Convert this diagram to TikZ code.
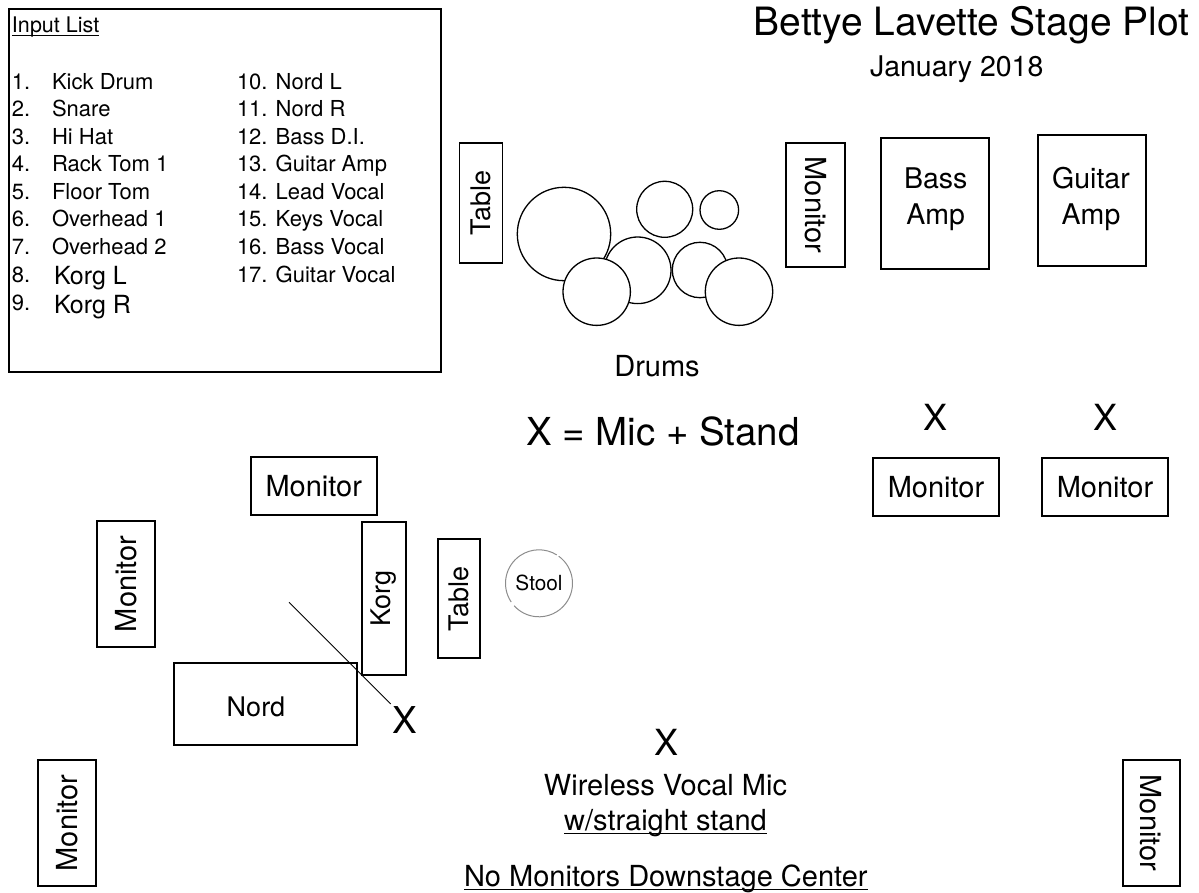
\documentclass[tikz,border=0pt]{standalone}
\usepackage{fontspec}
\setmainfont{TeX Gyre Heros}
\usetikzlibrary{calc}
\begin{document}
\begin{tikzpicture}[x=1pt,y=-1pt,
  box/.style={draw, line width=1.8pt, inner sep=0pt, outer sep=0pt},
  drum/.style={circle, draw, line width=1.3pt, fill=white, inner sep=0pt},
  txt/.style={inner sep=0pt, outer sep=0pt},
  fa/.style={font=\fontsize{22}{27.5}\selectfont},
  fb/.style={font=\fontsize{25}{30}\selectfont},
  fc/.style={font=\fontsize{27}{32}\selectfont},
  fd/.style={font=\fontsize{29}{35}\selectfont},
  famp/.style={font=\fontsize{28.5}{35.7}\selectfont, align=center},
  fx/.style={font=\fontsize{36}{42}\selectfont},
  uline/.style={line width=1pt},
  stoolline/.style={draw=black!45, line width=1pt}
]
\useasboundingbox (0,0) rectangle (1199,893);

% Input list
\node[box, line width=1.3pt, minimum width=432, minimum height=363, anchor=north west] (inputbox) at (9,9) {};
\node[txt, font=\fontsize{21.5}{26}\selectfont, anchor=base west] (inhead) at (12,33) {Input List};
\draw[uline] ([yshift=-2.5pt]inhead.base west) -- ([yshift=-2.5pt]inhead.base east);
\foreach \itm/\yy [count=\i] in {Kick Drum/89.3, Snare/116.7, Hi Hat/144.3, Rack Tom 1/172, Floor Tom/199.3, Overhead 1/226.7, Overhead 2/254.3}{
  \node[txt, fa, anchor=base west] (num\i) at (12,\yy) {\i.};
  \node[txt, fa, anchor=base west] (itm\i) at (52,\yy) {\itm};
}
\node[txt, fa, anchor=base west] (num8) at (12,282.7) {8.};
\node[txt, fb, anchor=base west] (itm8) at (54,285) {Korg L};
\node[txt, fa, anchor=base west] (num9) at (12,310.7) {9.};
\node[txt, fb, anchor=base west] (itm9) at (54,313) {Korg R};
\foreach \itm/\yy [count=\i from 10] in {Nord L/89.3, Nord R/116.7, Bass D.I./144.3, Guitar Amp/172, Lead Vocal/199.3, Keys Vocal/226.7, Bass Vocal/254.3, Guitar Vocal/282.7}{
  \node[txt, fa, anchor=base west] (itm\i) at (237,\yy) {\i. \itm};
}

% Title
\node[txt, font=\fontsize{39}{47}\selectfont, anchor=base] (title) at (971.5,36) {Bettye Lavette Stage Plot};
\node[txt, font=\fontsize{28.5}{34}\selectfont, anchor=base] (date) at (956.7,77) {January 2018};

% Drum riser area
\node[box, fc, rotate=90, minimum width=119.4, minimum height=43] (tabletop) at (481,203) {Table};
\node[drum, minimum size=93.4] (kick) at (564,234) {};
\node[drum, minimum size=56] (racktom) at (664.7,209.3) {};
\node[drum, minimum size=38.6] (hihat) at (719.3,210) {};
\node[drum, minimum size=66.6] (snare) at (637.7,270.3) {};
\node[drum, minimum size=55.4] (tomr) at (700,270) {};
\node[drum, minimum size=67.4] (cymL) at (596.7,291.7) {};
\node[drum, minimum size=67.4] (cymR) at (739,291.7) {};
\node[txt, fd, anchor=base] (drums) at (657,376) {Drums};

\node[box, fd, rotate=-90, minimum width=123.4, minimum height=59] (montop) at (815.5,205) {Monitor};
\node[box, minimum width=107.7, minimum height=130.7] (bassamp) at (934.9,203.7) {};
\node[txt, famp] (basstxt) at (935.7,199) {Bass\\Amp};
\node[box, minimum width=108, minimum height=130.7] (guitaramp) at (1092.3,200.4) {};
\node[txt, famp] (guitartxt) at (1091,199) {Guitar\\Amp};

% Mic legend and right monitors
\node[txt, font=\fontsize{38.5}{46}\selectfont, anchor=base west] (legend) at (526,445) {X = Mic + Stand};
\node[txt, fx, anchor=base] (xr1) at (935,430) {X};
\node[txt, fx, anchor=base] (xr2) at (1105,430) {X};
\node[box, fd, minimum width=126, minimum height=57.5] (monr1) at (936,487) {Monitor};
\node[box, fd, minimum width=126, minimum height=57.5] (monr2) at (1105,487) {Monitor};

% Keys area
\node[box, fd, minimum width=126, minimum height=57.7] (montl) at (313.7,486.2) {Monitor};
\node[box, fd, rotate=90, minimum width=125.7, minimum height=57.7] (monl) at (126.2,583.8) {Monitor};
\node[box, fc, rotate=90, minimum width=152.7, minimum height=43.4] (korg) at (384,598.7) {Korg};
\node[box, fc, rotate=90, minimum width=119, minimum height=42.3] (tablebot) at (458.8,598.8) {Table};
\node[txt, font=\fontsize{20.8}{25}\selectfont, minimum size=67] (stool) at (539,583.3) {Stool};
\draw[stoolline] ($(stool.center)+(-54:33.5)$) arc[start angle=-54, end angle=138, radius=33.5];
\draw[stoolline] ($(stool.center)+(146:33.5)$) arc[start angle=146, end angle=302, radius=33.5];
\node[box, minimum width=182.7, minimum height=81.7] (nord) at (265.3,704.2) {};
\node[txt, fc, anchor=base] (nordtxt) at (256,716.7) {Nord};
\coordinate (lnA) at (289,602.3);
\coordinate (lnB) at (390.7,704);
\draw[line width=0.9pt] (lnA) -- (lnB);
\node[txt, font=\fontsize{37}{44}\selectfont, anchor=base] (xnord) at (405,733.3) {X};

% Center vocal
\node[txt, fx, anchor=base] (xc) at (666,755) {X};
\node[txt, fd, anchor=base] (wireless) at (665.5,795) {Wireless Vocal Mic};
\node[txt, fd, anchor=base] (straight) at (665.5,830) {w/straight stand};
\draw[uline] ([yshift=-3pt]straight.base west) -- ([yshift=-3pt]straight.base east);
\node[txt, fd, anchor=base] (nomon) at (665.8,886.7) {No Monitors Downstage Center};
\draw[uline] ([yshift=-2.7pt]nomon.base west) -- ([yshift=-2.7pt]nomon.base east);

% Downstage side monitors
\node[box, fd, rotate=90, minimum width=126, minimum height=57.7] (monbl) at (67.2,823) {Monitor};
\node[box, fd, rotate=-90, minimum width=126, minimum height=57.3] (monbr) at (1151.3,823) {Monitor};
\end{tikzpicture}
\end{document}
